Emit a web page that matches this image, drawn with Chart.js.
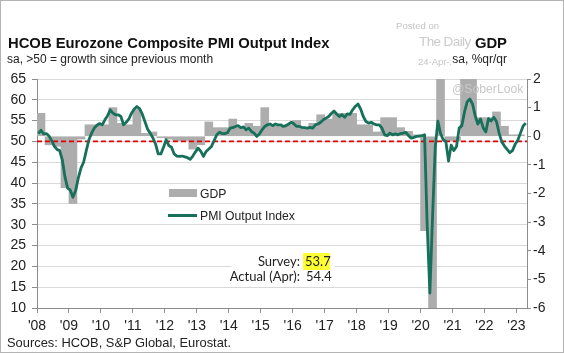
<!DOCTYPE html>
<html>
<head>
<meta charset="utf-8">
<script src="https://cdn.jsdelivr.net/npm/chart.js@4/dist/chart.umd.min.js"></script>
<style>
  html, body { margin: 0; padding: 0; background: #fff; }
  #wrap { position: relative; width: 564px; height: 353px; overflow: hidden; background: #fff; font-family: "Liberation Sans", Arial, sans-serif; }
  #wrap canvas { position: absolute; left: 0; top: 0; }
  .t { position: absolute; white-space: nowrap; }
  #frame { position: absolute; left: 0; top: 0; width: 562px; height: 351px; border: 1px solid #b4b4b4; pointer-events: none; }
</style>
</head>
<body>
<div id="wrap">
  <canvas id="c" width="564" height="353"></canvas>

  <div class="t" style="left:396px; top:21px; font-size:9.6px; line-height:10px; color:#c4c4c4;">Posted on</div>
  <div class="t" style="left:419px; top:35px; font-size:13.5px; line-height:14px; letter-spacing:-0.6px; color:#cbcbcb;">The Daily Shot</div>
  <div class="t" style="left:418px; top:57px; font-size:9.5px; line-height:10px; color:#c4c4c4;">24-Apr-2023</div>

  <div class="t" style="left:8px; top:34.5px; font-size:14.8px; line-height:16px; font-weight:bold; color:#111;">HCOB Eurozone Composite PMI Output Index</div>
  <div class="t" style="left:7px; top:53.3px; font-size:12px; line-height:12px; color:#222;">sa, &gt;50 = growth since previous month</div>

  <div class="t" style="right:57px; top:34.5px; font-size:14.8px; line-height:16px; font-weight:bold; color:#111; background:#fff; padding-left:1px;">GDP</div>
  <div class="t" style="right:57px; top:53.3px; font-size:12px; line-height:12px; color:#222; background:#fff; padding-left:1px;">sa, %qr/qr</div>

  <div class="t" style="left:452px; top:82px; font-size:12.2px; line-height:14px; color:#c8c8c8;">@SoberLook</div>

  <!-- legend -->
  <div class="t" style="left:169px; top:189px; width:28px; height:8px; background:#adadad;"></div>
  <div class="t" style="left:200px; top:188px; font-size:12.2px; line-height:12px; color:#222;">GDP</div>
  <div class="t" style="left:168px; top:213.5px; width:29px; height:3px; background:#17705a;"></div>
  <div class="t" style="left:200px; top:209.7px; font-size:12.2px; line-height:12px; color:#222;">PMI Output Index</div>

  <!-- annotation -->
  <div class="t" style="left:231px; top:251px; width:104px; height:35px; background:#fff;"></div>
  <div class="t" style="right:264px; top:254px; font-family:Lato, sans-serif; font-size:13px; line-height:15px; color:#222;">Survey:</div>
  <div class="t" style="left:303px; top:253px; width:27px; height:17px; background:#ffff33;"></div>
  <div class="t" style="left:305px; top:254px; font-family:Lato, sans-serif; font-size:13px; line-height:15px; color:#222;">53.7</div>
  <div class="t" style="right:264px; top:269px; font-family:Lato, sans-serif; font-size:13px; line-height:15px; color:#222;">Actual (Apr):</div>
  <div class="t" style="left:306px; top:269px; font-family:Lato, sans-serif; font-size:13px; line-height:15px; color:#222;">54.4</div>

  <div class="t" style="left:7px; top:336px; font-size:12.9px; line-height:14px; color:#222;">Sources: HCOB, S&amp;P Global, Eurostat.</div>

  <div id="frame"></div>
</div>

<script>
// ---- data ----
const startYear = 2008;
const tickLabels = ["'08","'09","'10","'11","'12","'13","'14","'15","'16","'17","'18","'19","'20","'21","'22","'23"];

// HCOB Eurozone Composite PMI Output Index, monthly from Jan 2008 to Apr 2023
const pmi2008 = [51.9, 52.7, 51.8, 51.9, 51.3, 50.2, 48.9, 48.1, 47.8, 45.6, 41.5, 38.8];
const pmi2009 = [38.3, 36.6, 38.2, 41.2, 43.6, 45.0, 47.8, 50.4, 52.0, 53.2, 53.9, 54.3];
const pmi2010 = [54.0, 55.2, 56.2, 57.6, 56.8, 56.4, 56.4, 56.0, 54.0, 54.6, 55.4, 56.8];
const pmi2011 = [57.8, 58.4, 57.9, 56.6, 54.8, 53.0, 52.0, 50.9, 49.4, 47.0, 47.0, 48.6];
const pmi2012 = [50.4, 49.0, 48.6, 47.0, 46.5, 46.4, 46.5, 46.3, 46.1, 45.7, 46.5, 47.5];
const pmi2013 = [48.4, 47.6, 46.4, 47.6, 48.2, 48.8, 50.2, 51.6, 52.2, 51.9, 51.9, 52.1];
const pmi2014 = [53.2, 53.3, 53.6, 53.8, 53.3, 53.5, 52.8, 53.2, 52.4, 52.0, 51.2, 51.8];
const pmi2015 = [52.8, 53.6, 54.0, 54.2, 53.8, 54.2, 54.0, 54.0, 53.6, 53.8, 54.2, 54.6];
const pmi2016 = [54.2, 53.6, 53.6, 53.4, 53.3, 53.2, 53.4, 53.2, 54.0, 54.2, 54.6, 55.2];
const pmi2017 = [55.6, 56.0, 56.7, 57.3, 56.6, 56.0, 56.4, 55.8, 56.6, 56.5, 57.6, 58.4];
const pmi2018 = [59.0, 57.8, 56.0, 54.8, 54.4, 54.6, 54.2, 54.0, 54.0, 53.2, 51.6, 51.4];
const pmi2019 = [52.0, 51.6, 51.8, 51.6, 51.9, 52.0, 52.2, 51.4, 50.8, 51.0, 51.2, 51.3];
const pmi2020 = [51.4, 51.6, 29.7, 13.6, 31.9, 48.5, 54.9, 51.9, 50.4, 50.0, 45.3, 49.1];
const pmi2021 = [47.8, 48.8, 53.2, 53.8, 57.1, 59.5, 60.2, 59.0, 56.2, 54.2, 55.4, 53.3];
const pmi2022 = [52.3, 55.5, 54.9, 55.8, 54.8, 52.0, 49.9, 48.9, 48.1, 47.3, 47.8, 49.3];
const pmi2023 = [50.3, 52.0, 53.7, 54.4];

// Eurozone GDP, % q/q, quarterly from 2008 Q1 to 2023 Q1
const gdp2008 = [0.8, -0.3, -0.35, -1.8];
const gdp2009 = [-2.35, -0.1, 0.4, 0.4];
const gdp2010 = [0.4, 1.0, 0.45, 0.4];
const gdp2011 = [0.95, 0.1, 0.15, -0.05];
const gdp2012 = [-0.1, -0.15, -0.15, -0.45];
const gdp2013 = [-0.3, 0.5, 0.3, 0.3];
const gdp2014 = [0.6, 0.3, 0.45, 0.35];
const gdp2015 = [1.0, 0.35, 0.35, 0.4];
const gdp2016 = [0.55, 0.3, 0.45, 0.75];
const gdp2017 = [0.6, 0.8, 0.8, 0.8];
const gdp2018 = [0.4, 0.4, 0.15, 0.65];
const gdp2019 = [0.65, 0.3, 0.17, 0.05];
const gdp2020 = [-3.3, -11.6, 12.5, -0.15];
const gdp2021 = [-0.15, 2.1, 2.2, 0.65];
const gdp2022 = [0.65, 0.85, 0.35, 0.05];
const gdp2023 = [0.05];

const pmiValues = [].concat(pmi2008, pmi2009, pmi2010, pmi2011, pmi2012, pmi2013, pmi2014, pmi2015,
  pmi2016, pmi2017, pmi2018, pmi2019, pmi2020, pmi2021, pmi2022, pmi2023);
const gdpValues = [].concat(gdp2008, gdp2009, gdp2010, gdp2011, gdp2012, gdp2013, gdp2014, gdp2015,
  gdp2016, gdp2017, gdp2018, gdp2019, gdp2020, gdp2021, gdp2022, gdp2023);
const growthThreshold = 50;

// ---- chart ----
const xMin = startYear, xMax = 2023.33;
const pmiPoints = pmiValues.map((v, i) => ({ x: startYear + (i + 0.5) / 12, y: v }));
const gdpPoints = gdpValues.map((v, i) => ({ x: startYear + (i + 0.5) / 4, y: v }));
const thresholdPoints = [{ x: xMin, y: growthThreshold }, { x: xMax, y: growthThreshold }];

Chart.defaults.font.family = "'Liberation Sans', Arial, sans-serif";
Chart.defaults.color = '#222';

new Chart(document.getElementById('c'), {
  type: 'bar',
  data: {
    datasets: [
      { type: 'line', label: 'PMI Output Index', data: pmiPoints, yAxisID: 'y',
        borderColor: '#17705a', borderWidth: 2.8, pointRadius: 0, tension: 0,
        borderJoinStyle: 'round', order: 0 },
      { type: 'line', label: 'threshold', data: thresholdPoints, yAxisID: 'y',
        borderColor: '#e00000', borderWidth: 1.7, borderDash: [5, 3], pointRadius: 0, order: 1 },
      { type: 'bar', label: 'GDP', data: gdpPoints, yAxisID: 'y2',
        backgroundColor: '#adadad', borderWidth: 0, barPercentage: 1, categoryPercentage: 1, order: 2 }
    ]
  },
  options: {
    responsive: false,
    animation: false,
    devicePixelRatio: 1,
    layout: { padding: { top: 79, left: 0, right: 0, bottom: 0 } },
    plugins: { legend: { display: false }, tooltip: { enabled: false } },
    scales: {
      x: {
        type: 'linear', min: xMin, max: xMax, offset: false,
        grid: { drawOnChartArea: false, drawTicks: true, tickLength: 5, color: '#8c8c8c', offset: false },
        border: { display: true, color: '#8c8c8c', width: 1 },
        ticks: { stepSize: 1, includeBounds: false, autoSkip: false, maxRotation: 0, minRotation: 0,
          padding: 5, font: { size: 14 }, color: '#222',
          callback: (v) => tickLabels[Math.round(v) - startYear] },
        afterFit: (s) => { s.height = 45; }
      },
      y: {
        position: 'left', min: 10, max: 65,
        grid: { color: '#d9d9d9', tickColor: '#8c8c8c', tickLength: 5, lineWidth: 1 },
        border: { display: true, color: '#8c8c8c' },
        ticks: { stepSize: 5, padding: 6, font: { size: 14 }, color: '#222' },
        afterFit: (s) => { s.width = 37; }
      },
      y2: {
        position: 'right', min: -6, max: 2,
        grid: { drawOnChartArea: false, tickColor: '#8c8c8c', tickLength: 4 },
        border: { display: true, color: '#8c8c8c' },
        ticks: { stepSize: 1, padding: 2, font: { size: 14 }, color: '#222' },
        afterFit: (s) => { s.width = 37; }
      }
    }
  }
});
</script>
</body>
</html>
